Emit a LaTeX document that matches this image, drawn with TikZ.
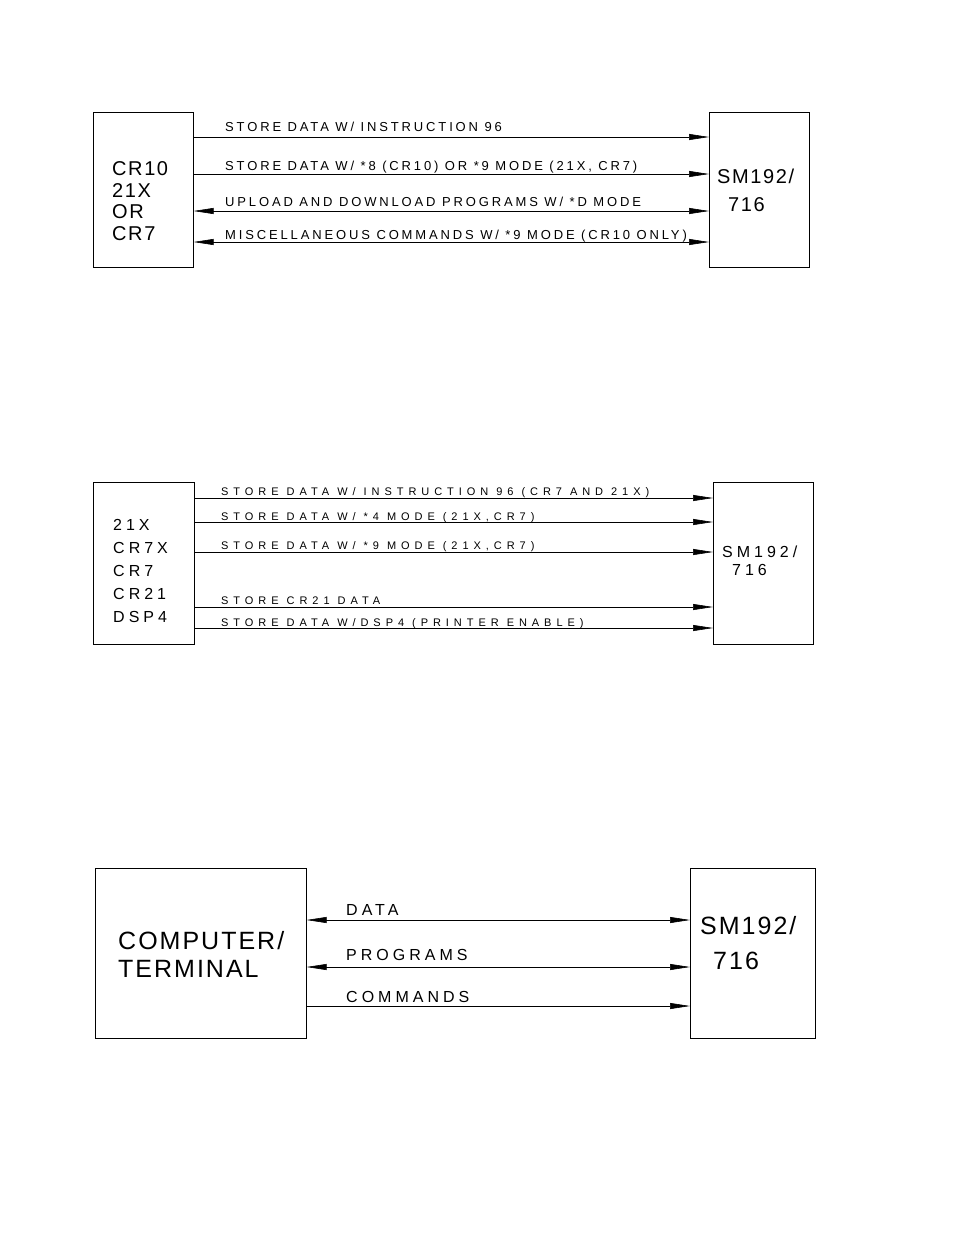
\documentclass[tikz,border=0pt]{standalone}
\usepackage{fontspec}
\setmainfont{Liberation Sans}
\newfontfamily\cadA[LetterSpace=22]{Liberation Sans}
\newfontfamily\cadB[LetterSpace=45]{Liberation Sans}
\newfontfamily\cadC[LetterSpace=8]{Liberation Sans}
\newfontfamily\cadD[LetterSpace=25]{Liberation Sans}
\usetikzlibrary{arrows.meta}
\begin{document}
\begin{tikzpicture}[x=1pt,y=-1pt,
  box/.style={draw,line width=0.6pt},
  ar/.style={line width=0.6pt,-{Triangle[length=20pt,width=6pt]}},
  dar/.style={line width=0.6pt,{Triangle[length=20pt,width=6pt]}-{Triangle[length=20pt,width=6pt]}},
  lA/.style={anchor=base west,inner sep=0pt,font=\cadA\fontsize{13}{13}\selectfont},
  lB/.style={anchor=base west,inner sep=0pt,font=\cadB\fontsize{11}{11}\selectfont},
  lC/.style={anchor=base west,inner sep=0pt,font=\cadD\fontsize{16}{16}\selectfont},
  big/.style={anchor=base west,inner sep=0pt,font=\cadC\fontsize{20}{20}\selectfont},
  mid/.style={anchor=base west,inner sep=0pt,font=\cadD\fontsize{16}{16}\selectfont},
  huge/.style={anchor=base west,inner sep=0pt,font=\cadC\fontsize{25}{25}\selectfont}]
\useasboundingbox (0,0) rectangle (954,1235);
% Diagram 1
\node[box,minimum width=100pt,minimum height=155pt,anchor=north west] (L1) at (93,112) {};
\node[box,minimum width=100pt,minimum height=155pt,anchor=north west] (R1) at (709,112) {};
\node[big] (t1a) at (112,175) {CR10};
\node[big] (t1b) at (112,197) {21X};
\node[big] (t1c) at (112,218) {OR};
\node[big] (t1d) at (112,240) {CR7};
\node[big] (t1e) at (717,183) {SM192/};
\node[big] (t1f) at (728,211) {716};
\draw[ar] (L1.east |- 0,137) -- (R1.west |- 0,137);
\draw[ar] (L1.east |- 0,174) -- (R1.west |- 0,174);
\draw[dar] (L1.east |- 0,211) -- (R1.west |- 0,211);
\draw[dar] (L1.east |- 0,242) -- (R1.west |- 0,242);
\node[lA] (a1) at (225,131) {STORE DATA W/ INSTRUCTION 96};
\node[lA] (a2) at (225,170) {STORE DATA W/ *8 (CR10) OR *9 MODE (21X, CR7)};
\node[lA] (a3) at (225,206) {UPLOAD AND DOWNLOAD PROGRAMS W/ *D MODE};
\node[lA] (a4) at (225,239) {MISCELLANEOUS COMMANDS W/ *9 MODE (CR10 ONLY)};
% Diagram 2
\node[box,minimum width=101pt,minimum height=162pt,anchor=north west] (L2) at (93,482) {};
\node[box,minimum width=100pt,minimum height=162pt,anchor=north west] (R2) at (713,482) {};
\node[lC] (t2a) at (113,530) {21X};
\node[lC] (t2b) at (113,553) {CR7X};
\node[lC] (t2c) at (113,576) {CR7};
\node[lC] (t2d) at (113,599) {CR21};
\node[lC] (t2e) at (113,622) {DSP4};
\node[lC] (t2f) at (722,557) {SM192/};
\node[lC] (t2g) at (732,575) {716};
\draw[ar] (L2.east |- 0,498) -- (R2.west |- 0,498);
\draw[ar] (L2.east |- 0,522) -- (R2.west |- 0,522);
\draw[ar] (L2.east |- 0,552) -- (R2.west |- 0,552);
\draw[ar] (L2.east |- 0,607) -- (R2.west |- 0,607);
\draw[ar] (L2.east |- 0,628) -- (R2.west |- 0,628);
\node[lB] (b1) at (221,495) {STORE DATA W/ INSTRUCTION 96 (CR7 AND 21X)};
\node[lB] (b2) at (221,520) {STORE DATA W/ *4 MODE (21X,CR7)};
\node[lB] (b3) at (221,549) {STORE DATA W/ *9 MODE (21X,CR7)};
\node[lB] (b4) at (221,604) {STORE CR21 DATA};
\node[lB] (b5) at (221,626) {STORE DATA W/DSP4 (PRINTER ENABLE)};
% Diagram 3
\node[box,minimum width=211pt,minimum height=170pt,anchor=north west] (L3) at (95,868) {};
\node[box,minimum width=125pt,minimum height=170pt,anchor=north west] (R3) at (690,868) {};
\node[huge] (t3a) at (118,949) {COMPUTER/};
\node[huge] (t3b) at (118,977) {TERMINAL};
\node[huge] (t3c) at (700,934) {SM192/};
\node[huge] (t3d) at (713,969) {716};
\draw[dar] (L3.east |- 0,920) -- (R3.west |- 0,920);
\draw[dar] (L3.east |- 0,967) -- (R3.west |- 0,967);
\draw[ar] (L3.east |- 0,1006) -- (R3.west |- 0,1006);
\node[mid] (c1) at (346,915) {DATA};
\node[mid] (c2) at (346,960) {PROGRAMS};
\node[mid] (c3) at (346,1002) {COMMANDS};
\end{tikzpicture}
\end{document}
